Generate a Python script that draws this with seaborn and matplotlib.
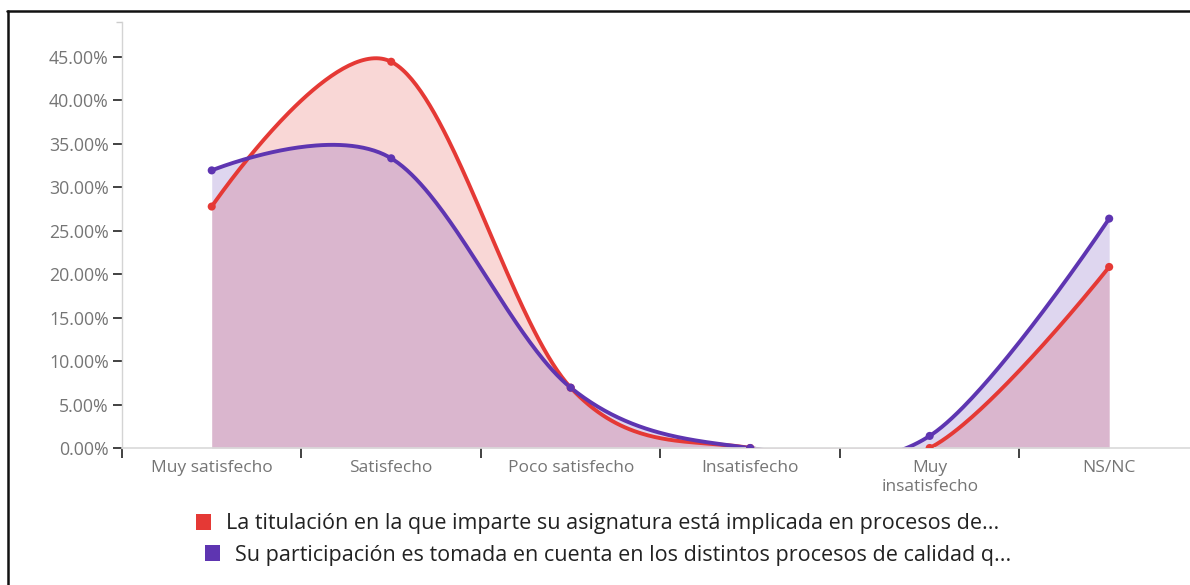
import numpy as np
import pandas as pd
import matplotlib
matplotlib.use("Agg")
import matplotlib.pyplot as plt
import seaborn as sns
from matplotlib.patches import Patch
from matplotlib.lines import Line2D

# datos (porcentajes)
categorias = ["Muy satisfecho", "Satisfecho", "Poco satisfecho", "Insatisfecho",
              "Muy\ninsatisfecho", "NS/NC"]
titulacion = [27.78, 44.44, 6.94, 0.0, 0.0, 20.83]
participacion = [31.94, 33.33, 6.94, 0.0, 1.39, 26.39]
etiquetas = ["La titulación en la que imparte su asignatura está implicada en procesos de...",
             "Su participación es tomada en cuenta en los distintos procesos de calidad q..."]
colores = ["#e53935", "#5e35b1"]
yticks = [0, 5, 10, 15, 20, 25, 30, 35, 40, 45]


def curva_cardinal(valores, n=80):
    # curva cardinal (tension 0) como d3.curveCardinal
    pts = np.column_stack([np.arange(len(valores), dtype=float), np.asarray(valores, float)])
    ext = np.vstack([pts[1], pts, pts[-2]])
    t = np.linspace(0, 1, n)[:, None]
    trozos = []
    for i in range(1, len(ext) - 2):
        p0, p1 = ext[i], ext[i + 1]
        c1 = p0 + (ext[i + 1] - ext[i - 1]) / 6
        c2 = p1 - (ext[i + 2] - ext[i]) / 6
        b = (1 - t) ** 3 * p0 + 3 * (1 - t) ** 2 * t * c1 + 3 * (1 - t) * t ** 2 * c2 + t ** 3 * p1
        trozos.append(b if i == 1 else b[1:])
    return np.vstack(trozos)


sns.set_theme(style="white")
plt.rcParams['font.family'] = ['Open Sans', 'DejaVu Sans']

fig = plt.figure(figsize=(11.9, 5.85), dpi=100)
ax = fig.add_axes([0.1025, 0.2342, 0.905, 0.728])

series = [titulacion, participacion]
curvas = []
for nombre, vals in zip(etiquetas, series):
    c = curva_cardinal(vals)
    curvas.append(pd.DataFrame({"x": c[:, 0], "y": c[:, 1], "serie": nombre}))
df_curvas = pd.concat(curvas, ignore_index=True)

for d, col in zip(curvas, colores):
    ax.fill_between(d["x"], d["y"], 0, color=col, alpha=0.2, lw=0)

sns.lineplot(data=df_curvas, x="x", y="y", hue="serie", palette=colores, sort=False,
             estimator=None, lw=2.8, legend=False, ax=ax, solid_capstyle="round")

puntos = pd.DataFrame({
    "x": list(range(len(categorias))) * 2,
    "y": titulacion + participacion,
    "serie": [etiquetas[0]] * len(categorias) + [etiquetas[1]] * len(categorias),
})
sns.scatterplot(data=puntos, x="x", y="y", hue="serie", palette=colores, s=34,
                linewidth=0, legend=False, ax=ax, zorder=5)

ax.set_xlim(-0.5, len(categorias) - 0.5)
ax.set_ylim(0, 49)
ax.set_xlabel("")
ax.set_ylabel("")

ax.set_xticks(range(len(categorias)))
ax.set_xticklabels(categorias)
ax.set_xticks(np.arange(-0.5, len(categorias) - 1, 1.0), minor=True)
ax.tick_params(axis="x", which="major", length=0, pad=9, labelsize=12.5, labelcolor="#757575")
ax.tick_params(axis="x", which="minor", length=7.5, width=1.3, color="#333333", direction="out",
               bottom=True)
ax.xaxis.get_minor_ticks()[0].tick1line.set_color("#cccccc")

ax.set_yticks(yticks)
ax.set_yticklabels([f"{v:.2f}%" for v in yticks])
ax.tick_params(axis="y", which="major", length=6.5, width=1.3, color="#333333", direction="out",
               left=True, pad=3, labelsize=12.8, labelcolor="#757575")
ax.set_yticks([49], minor=True)
ax.tick_params(axis="y", which="minor", length=4, width=1, color="#cccccc", left=True)

for lado in ["top", "right"]:
    ax.spines[lado].set_visible(False)
ax.spines["left"].set_color("#d4d4d4")
ax.spines["bottom"].set_color("#d9d9d9")
ax.spines["left"].set_linewidth(1.0)
ax.spines["bottom"].set_linewidth(1.2)

# leyenda: cada linea centrada por separado
posiciones = [(598 / 1190, 1 - 524 / 585), (608 / 1190, 1 - 555 / 585)]
for nombre, col, pos in zip(etiquetas, colores, posiciones):
    ley = fig.legend(handles=[Patch(facecolor=col, edgecolor="none", label=nombre)],
                     loc="center", bbox_to_anchor=pos, frameon=False, fontsize=15.5,
                     handlelength=0.7, handleheight=0.7, handletextpad=0.7,
                     borderpad=0, borderaxespad=0)
    for txt in ley.get_texts():
        txt.set_color("#222222")

# marco de la captura
fig.add_artist(Line2D([7.5 / 1190, 7.5 / 1190], [0, 1 - 11 / 585], color="#111111", lw=1.8))
fig.add_artist(Line2D([7 / 1190, 1], [1 - 11 / 585, 1 - 11 / 585], color="#111111", lw=1.8))

fig.savefig("out.png", dpi=100, facecolor="white")
